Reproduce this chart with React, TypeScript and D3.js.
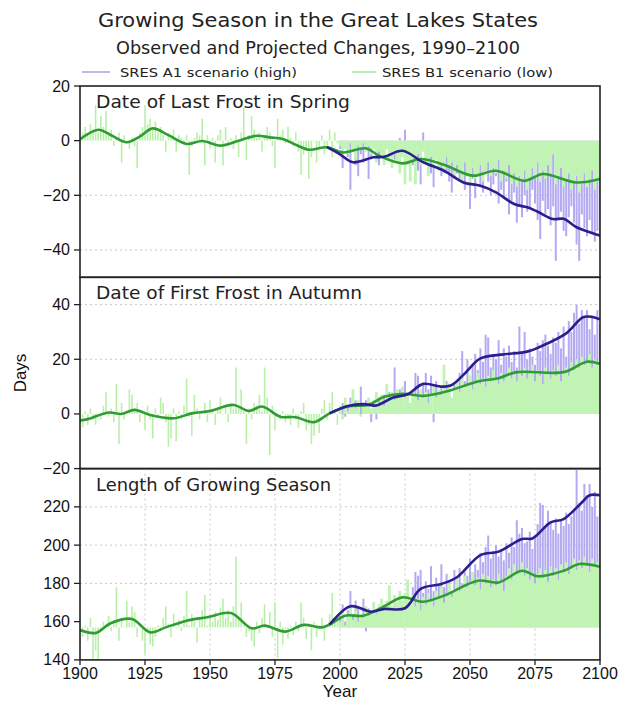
import React from 'react';
import * as d3 from 'd3';

// ---------- categories / ticks ----------
const histYears = d3.range(1900, 2000);
const projYears = d3.range(2000, 2101);
const xTicks = [1900, 1925, 1950, 1975, 2000, 2025, 2050, 2075, 2100];

// ---------- Panel 1: Date of Last Frost in Spring (days) ----------
const springHist = [
  -2, 3, 5, 2, 6, 4, 13, 3, 9, 5,
  11, 2, 4, -2, 1, 3, -8, 2, -1, -3,
  1, -2, -10, 3, 5, 13, 6, 8, 4, 7,
  3, 5, 2, -4, 3, 1, 4, -4, 2, 1,
  -1, 2, -12.5, -2, 1, 3, 2, 8, -9, 2,
  -3, 1, -8, 2, 4, -9, 5, -2, 1, -3,
  2, -6, 3, 12, -7, 2, 9, 4, 1, 3,
  -4, 2, 5, 3, -2, -10, 8, 2, 4, -1,
  5, 1, -2, 3, -4, -12.5, -5, -3, -14, -6,
  0, -8, -3, 2, -5, -2, 4, -6, 3, -1,
];
const springA1 = [
  -3, -10, -2, -6, -18, -4, -9, -13, -5, -8,
  -3, -14, -6, -2, -7, -9, -4, -8, -3, -6,
  -2, -7, -5, 1, -3, 4, -6, -2, -9, -5,
  -11, -16, 3, -8, -5, -12, -17, -6, -9, -13,
  -7, -11, -15, -19, -8, -12, -14, -10, -18, -13,
  -25, -14, -21, -12, -17, -19, -11, -15, -20, -16,
  -13, -23, -18, -21, -15, -27, -22, -19, -30, -24,
  -28, -20, -26, -25, -18, -23, -29, -36, -22, -27,
  -25, -31, -24, -44, -29, -26, -33, -35, -28, -24,
  -30, -38, -44, -27, -32, -35, -29, -34, -37, -33, -36,
];
const springB1 = [
  -2, -6, -3, -5, -1, -4, -7, -2, -3, -1,
  -4, -2, -5, -3, -8, -4, -6, -9, -3, -7,
  -10, -5, -8, -12, -6, -16, -9, -15, -7, -16,
  -5, -9, -4, -8, -13, -6, -10, -7, -11, -9,
  -12, -6, -10, -8, -14, -9, -11, -15, -8, -13,
  -16, -10, -14, -12, -9, -15, -11, -8, -13, -10,
  -12, -7, -15, -11, -14, -9, -16, -12, -17, -13,
  -15, -11, -18, -14, -10, -13, -8, -15, -11, -14,
  -9, -12, -5, -16, -13, -10, -17, -14, -12, -18,
  -15, -13, -19, -16, -12, -17, -14, -11, -18, -15, -13,
];
const springObsSmooth: [number, number][] = [
  [1900, 0.5], [1907, 4], [1912, 2], [1918, -0.6], [1923, 1.5], [1928, 4.5], [1934, 2],
  [1941, -1.2], [1947, -0.1], [1954, -1.8], [1961, 0], [1968, 1.8], [1973, 1.2], [1978, 0.6],
  [1983, -1.5], [1988, -3.3], [1995, -2.4],
];
const springB1Smooth: [number, number][] = [
  [1995, -2.4], [2001, -4.3], [2010, -2.8], [2015, -5.5], [2024, -8.3], [2031, -6.7], [2040, -8.8],
  [2051, -12.8], [2060, -11], [2071, -14.7], [2078, -12.2], [2091, -15.3], [2100, -14],
];
const springA1Smooth: [number, number][] = [
  [1995, -2.4], [2000, -5], [2005, -7.9], [2013, -6.1], [2017, -5.9], [2024, -3.7], [2032, -7.9],
  [2040, -11], [2047.5, -15.3], [2054, -16.5], [2060, -18.9], [2067, -23.2], [2072, -24.4],
  [2076, -26], [2082, -28.7], [2086, -28.6], [2091, -31.7], [2099, -34.4], [2100, -34.7],
];

// ---------- Panel 2: Date of First Frost in Autumn (days) ----------
const autumnHist = [
  -3, -5, 1, -4, 2, -2, -4, 0, -2, 3,
  8, -1, 2, -3, 11, -11, 4, -2, 1, 9,
  7, 2, 4, -3, 1, -6, 3, -2, -9, 2,
  -1, 6, 4, -3, -12, -9, 2, -10, 1, -2,
  3, 13, -1, -8, 7, 2, -2, 1, 4, -3,
  5, 1, -4, 2, 6, 0, 3, -3, 4, 2,
  17, 3, 9, 1, -11, 2, -2, 4, 3, 7,
  1, 17, 6, -15, 3, -6, 0, -2, 1, -3,
  -1, -4, 2, -2, -5, 1, 4, -6, -4, -11,
  -8, -3, -7, 2, 5, -2, 4, 8, 1, -4,
];
const autumnA1 = [
  1, 4, -1, 3, 6, 2, 5, 1, 10, 3,
  5, 2, -3, 4, -2, 6, 3, 7, 2, 8,
  5, 17, 4, 9, 3, 12, 6, 2, 9, 15,
  14, 8, 11, 15, 9, 14, -3, 12, 7, 10,
  5, 12, 8, 3, 11, 9, 15, 23, 12, 20,
  14, 18, 22, 16, 24, 19, 29, 28, 17, 22,
  20, 27, 18, 24, 21, 25, 19, 23, 17, 32,
  22, 30, 20, 24, 21, 18, 26, 23, 27, 29,
  25, 22, 28, 26, 30, 24, 32, 21, 34, 30,
  37, 40, 33, 38, 35, 38, 31, 36, 29, 38, 33,
];
const autumnB1 = [
  3, -2, 6, 1, 4, 9, 2, 5, -1, 4,
  3, 6, 2, 5, 8, 4, 7, 3, 11, 6,
  8, 5, 9, 7, 10, 6, 8, 4, 9, 7,
  5, 9, 6, 8, 4, 7, 10, 6, 9, 7,
  18, 8, 11, 6, 9, 12, 8, 13, 10, 11,
  14, 9, 12, 15, 11, 13, 10, 14, 12, 16,
  13, 11, 15, 12, 14, 17, 13, 15, 12, 16,
  14, 17, 13, 15, 18, 12, 16, 14, 11, 17,
  15, 13, 16, 14, 18, 12, 15, 17, 14, 19,
  16, 20, 17, 21, 18, 19, 22, 17, 20, 18, 19,
];
const autumnObsSmooth: [number, number][] = [
  [1900, -2.4], [1903, -1.9], [1911, 0.5], [1916, 0], [1921, 1.5], [1927, -0.4], [1936, -1.6],
  [1943, 0.2], [1950, 1.1], [1959, 3.3], [1965, 1.1], [1970, 2.7], [1977, -1], [1983, -1.2],
  [1990, -3], [1996, 0.2],
];
const autumnB1Smooth: [number, number][] = [
  [1996, 0.2], [2003, 2.7], [2011, 3.4], [2017, 6.3], [2024, 7.4], [2032, 6.6], [2042, 8.5],
  [2053, 11.9], [2061, 13.1], [2068, 15.3], [2086, 15.3], [2095, 19.1], [2100, 18.3],
];
const autumnA1Smooth: [number, number][] = [
  [1996, 0.2], [2003, 2.9], [2009, 3.6], [2014, 3.1], [2020.5, 6], [2026, 7.2], [2032, 11],
  [2039, 10], [2043, 10.6], [2048, 14.8], [2054, 20.3], [2062, 21.7], [2072, 22.8], [2077, 24.6],
  [2087, 29.5], [2093.5, 35.4], [2097, 35.5], [2100, 34.6],
];

// ---------- Panel 3: Length of Growing Season (days) ----------
const lengthBase = 157;
const lengthHist = [
  160, 152, 158, 150, 162, 140, 145, 140, 156, 160,
  158, 163, 155, 161, 178, 150, 162, 157, 171, 160,
  168, 165, 152, 158, 150, 143, 155, 148, 147, 152,
  158, 155, 162, 168, 159, 152, 164, 157, 161, 155,
  163, 176, 158, 164, 160, 149, 162, 166, 174, 158,
  163, 160, 165, 161, 167, 172, 162, 166, 160, 168,
  194, 163, 170, 158, 152, 155, 150, 147, 160, 154,
  162, 169, 157, 165, 152, 170, 141, 160, 148, 156,
  151, 158, 153, 160, 155, 170, 162, 151, 158, 145,
  160, 152, 156, 162, 150, 158, 164, 175, 160, 163,
];
const lengthA1 = [
  163, 169, 160, 166, 176, 164, 171, 168, 161, 172,
  155, 167, 162, 170, 165, 168, 163, 169, 166, 171,
  164, 168, 162, 170, 158, 167, 173, 169, 178, 186,
  184, 187, 175, 181, 177, 189, 176, 183, 179, 190,
  178, 185, 181, 176, 187, 182, 188, 180, 186, 184,
  193, 185, 190, 187, 196, 191, 199, 205, 193, 197,
  200, 194, 198, 192, 201, 196, 204, 199, 213, 206,
  209, 201, 202, 207, 198, 205, 211, 222, 221, 210,
  218, 212, 208, 214, 206, 213, 210, 217, 211, 215,
  219, 240, 222, 218, 232, 226, 232, 220, 228, 215, 224,
];
const lengthB1 = [
  160, 165, 158, 163, 167, 161, 166, 160, 164, 162,
  168, 163, 166, 170, 164, 169, 172, 166, 171, 179,
  168, 174, 170, 176, 171, 175, 182, 169, 174, 168,
  172, 166, 173, 169, 175, 171, 168, 176, 172, 178,
  170, 175, 180, 173, 177, 182, 176, 179, 184, 178,
  181, 186, 179, 183, 177, 185, 180, 184, 178, 182,
  179, 185, 181, 176, 184, 188, 182, 190, 185, 187,
  191, 184, 188, 182, 186, 180, 185, 188, 183, 187,
  181, 189, 184, 188, 182, 190, 186, 191, 185, 189,
  193, 187, 192, 188, 194, 190, 186, 193, 189, 191, 188,
];
const lengthObsSmooth: [number, number][] = [
  [1900, 155.6], [1906, 154.1], [1912, 159.3], [1920, 161.4], [1927, 154.4], [1933, 157],
  [1941, 160.5], [1949, 162.3], [1958, 164.5], [1966, 156.5], [1971, 157.9], [1979, 154.8],
  [1986, 158.3], [1993, 157], [1996, 158.5],
];
const lengthB1Smooth: [number, number][] = [
  [1996, 158.5], [2002, 163.1], [2009, 163.1], [2017, 168], [2024, 172.7], [2032, 170.4],
  [2040, 173.6], [2053, 181.4], [2061, 180.5], [2070, 186.6], [2076, 183.7], [2086, 186.6],
  [2092, 190.1], [2100, 188.7],
];
const lengthA1Smooth: [number, number][] = [
  [1996, 158.5], [2004, 168], [2012, 165.2], [2017, 166.6], [2025, 167], [2031, 177.1],
  [2039, 179.7], [2045, 183.2], [2054, 194.8], [2061, 196.6], [2070, 203.2], [2074, 203.5],
  [2081, 211.9], [2086, 213.6], [2093, 222.3], [2096, 226.1], [2100, 226.1],
];

// ---------- text ----------
const titleLines = ['Growing Season in the Great Lakes States', 'Observed and Projected Changes, 1990\u20132100'];
const legendLabels = ['SRES A1 scenario (high)', 'SRES B1 scenario (low)'];
const panelTitles = ['Date of Last Frost in Spring', 'Date of First Frost in Autumn', 'Length of Growing Season'];
const panelDomains: [number, number][] = [[-50, 20], [-20, 50], [140, 240]];
const panelYTicks = [[20, 0, -20, -40], [40, 20, 0, -20], [220, 200, 180, 160, 140]];
const panelGrid = [[-20, -40], [40, 20], [220, 200, 180]];
const panelBase = [0, 0, lengthBase];

type Pt = [number, number];

const C = {
  histBar: '#b8f0a8',
  b1Bar: '#c0f4b2',
  a1Bar: '#b3aaf2',
  greenLine: '#2f9d34',
  purpleLine: '#2b1f8e',
  grid: '#c8c8c8',
  legA1: '#a9a0ee',
  legB1: '#9ee89a',
};

const FONT = '"Liberation Sans", Arial, Helvetica, sans-serif';
const TFONT = '"DejaVu Sans", "Liberation Sans", sans-serif';

export default function App() {
  const W = 621, H = 701;
  const X0 = 80, X1 = 600;
  const top0 = 86, ph = 191.3;
  const x = d3.scaleLinear().domain([1900, 2100]).range([X0, X1]);

  const data = [
    { hist: springHist, a1: springA1, b1: springB1, obs: springObsSmooth, b1s: springB1Smooth, a1s: springA1Smooth },
    { hist: autumnHist, a1: autumnA1, b1: autumnB1, obs: autumnObsSmooth, b1s: autumnB1Smooth, a1s: autumnA1Smooth },
    { hist: lengthHist, a1: lengthA1, b1: lengthB1, obs: lengthObsSmooth, b1s: lengthB1Smooth, a1s: lengthA1Smooth },
  ];

  const barRect = (yr: number, v: number, base: number, y: d3.ScaleLinear<number, number>, w: number, key: string, fill: string) => {
    const y0 = y(base), y1 = y(v);
    return <rect key={key} x={x(yr) - w / 2} y={Math.min(y0, y1)} width={w} height={Math.max(0.6, Math.abs(y1 - y0))} fill={fill} />;
  };

  return (
    <svg width={W} height={H} viewBox={`0 0 ${W} ${H}`} style={{ position: 'absolute', left: 0, top: 0, background: '#fff' }}>
      <rect x={0} y={0} width={W} height={H} fill="#fff" />
      {/* titles */}
      <text x={318} y={27} textAnchor="middle" fontFamily={TFONT} fontSize={19} fill="#222" textLength={440} lengthAdjust="spacingAndGlyphs">{titleLines[0]}</text>
      <text x={318} y={54} textAnchor="middle" fontFamily={TFONT} fontSize={18} fill="#222" textLength={404} lengthAdjust="spacingAndGlyphs">{titleLines[1]}</text>
      {/* legend */}
      <line x1={82} x2={110} y1={72} y2={72} stroke={C.legA1} strokeWidth={1.5} />
      <text x={120} y={76.5} fontFamily={TFONT} fontSize={13} fill="#222" textLength={177} lengthAdjust="spacingAndGlyphs">{legendLabels[0]}</text>
      <line x1={352} x2={376} y1={72} y2={72} stroke={C.legB1} strokeWidth={1.5} />
      <text x={382} y={76.5} fontFamily={TFONT} fontSize={13} fill="#222" textLength={171} lengthAdjust="spacingAndGlyphs">{legendLabels[1]}</text>

      {data.map((d, i) => {
        const top = top0 + i * ph;
        const y = d3.scaleLinear().domain(panelDomains[i]).range([top + ph, top]);
        const base = panelBase[i];
        const line = d3.line<Pt>().x(p => x(p[0])).y(p => y(p[1])).curve(d3.curveCatmullRom.alpha(0.5));
        const greenPts = [...d.obs, ...d.b1s.slice(1)];
        const clipId = `clip${i}`;
        return (
          <g key={i}>
            <defs>
              <clipPath id={clipId}><rect x={X0} y={top} width={X1 - X0} height={ph} /></clipPath>
            </defs>
            <g clipPath={`url(#${clipId})`}>
              {panelGrid[i].map(g => (
                <line key={'g' + g} x1={X0} x2={X1} y1={y(g)} y2={y(g)} stroke={C.grid} strokeWidth={1} strokeDasharray="2,3" />
              ))}
              {i === 2 && xTicks.slice(1, -1).map(t => (
                <line key={'v' + t} x1={x(t)} x2={x(t)} y1={top} y2={top + ph} stroke={C.grid} strokeWidth={1} strokeDasharray="2,3" />
              ))}
              {d.hist.map((v, k) => barRect(histYears[k], v, base, y, 1.6, 'h' + k, C.histBar))}
              {d.a1.map((v, k) => barRect(projYears[k], v, base, y, 2.0, 'a' + k, C.a1Bar))}
              {d.b1.map((v, k) => barRect(projYears[k], v, base, y, 2.8, 'b' + k, C.b1Bar))}
              <path d={line(greenPts) || ''} fill="none" stroke={C.greenLine} strokeWidth={2.6} strokeLinejoin="round" />
              <path d={line(d.a1s) || ''} fill="none" stroke={C.purpleLine} strokeWidth={2.6} strokeLinejoin="round" />
            </g>
            <rect x={X0} y={top} width={X1 - X0} height={ph} fill="none" stroke="#222" strokeWidth={1.6} />
            <text x={96} y={top + 22} fontFamily={TFONT} fontSize={17} fill="#222"
              textLength={i === 0 ? 254 : i === 1 ? 266 : 235} lengthAdjust="spacingAndGlyphs">{panelTitles[i]}</text>
            {panelYTicks[i].map(t => (
              <g key={'t' + t}>
                <line x1={X0 - 6} x2={X0} y1={y(t)} y2={y(t)} stroke="#222" strokeWidth={1.3} />
                <text x={70} y={y(t) + 5.5} textAnchor="end" fontFamily={FONT} fontSize={16} fill="#111">{d3.format('')(t)}</text>
              </g>
            ))}
          </g>
        );
      })}

      {/* x axis */}
      {xTicks.map(t => (
        <g key={'x' + t}>
          <line x1={x(t)} x2={x(t)} y1={top0 + 3 * ph} y2={top0 + 3 * ph + 5} stroke="#222" strokeWidth={1.3} />
          <text x={x(t)} y={679} textAnchor="middle" fontFamily={FONT} fontSize={16} fill="#111">{t}</text>
        </g>
      ))}
      <text x={340} y={697} textAnchor="middle" fontFamily={FONT} fontSize={17} fill="#111">Year</text>
      <text transform="translate(26,373) rotate(-90)" textAnchor="middle" fontFamily={FONT} fontSize={17} fill="#111">Days</text>
    </svg>
  );
}
